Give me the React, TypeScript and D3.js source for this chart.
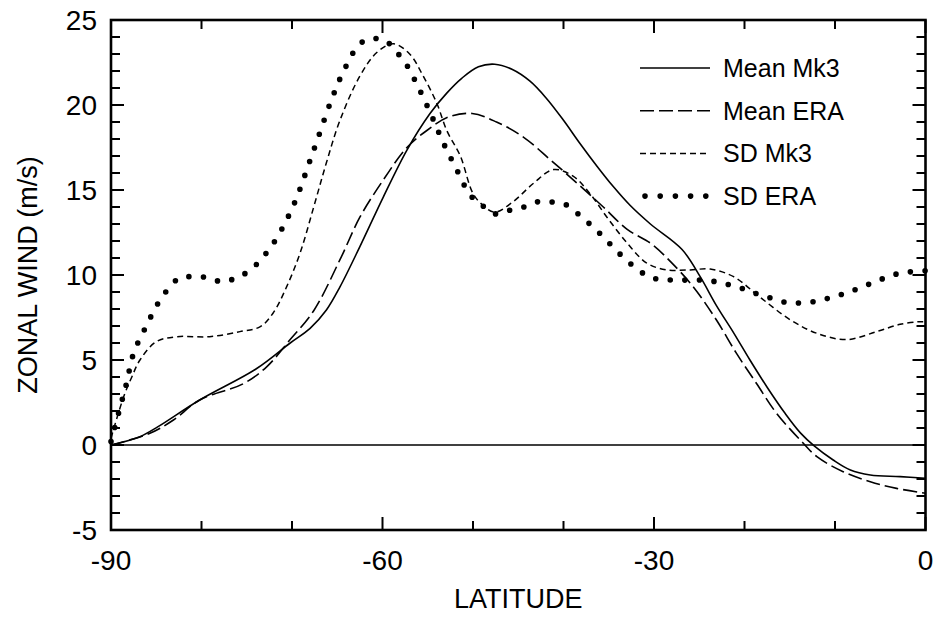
import React from "react";
import * as d3 from "d3";

const meanMk3Lat = [-90,-86.8,-84.8,-80.2,-73.9,-70.2,-68,-66.2,-64.7,-62.5,-59.9,-57.3,-54.75,-52.9,-51.25,-49.4,-47.6,-45.7,-43.7,-41.9,-40,-38.2,-36.3,-34.5,-32.65,-30.4,-26.9,-24.9,-23.1,-21.2,-19.4,-17.5,-15.5,-13.8,-12.3,-10.2,-8.3,-6.1,-2.8,0];
const meanMk3Val = [0,0.49,1.08,2.65,4.5,6.0,6.86,7.94,9.3,11.67,14.6,17.35,19.5,20.7,21.57,22.25,22.4,22.1,21.4,20.4,19.1,17.75,16.4,15.2,14.1,13.0,11.5,9.9,8.2,6.6,5.0,3.4,1.85,0.7,-0.05,-0.88,-1.47,-1.76,-1.86,-1.96];

const meanEraLat = [-90,-85.7,-83.1,-80.2,-75.4,-72.8,-70.2,-67.6,-64.7,-62.5,-59.9,-57.3,-55.1,-52.7,-50.1,-47.4,-44.4,-41.5,-38.5,-35.6,-33,-30.2,-28.2,-25.65,-23.1,-20.9,-18.65,-16.45,-13.5,-12,-9.1,-6.1,-3.2,0];
const meanEraVal = [0,0.69,1.47,2.65,3.6,4.6,6.2,7.9,10.9,13.4,15.6,17.5,18.5,19.3,19.5,19.0,18.1,16.8,15.4,14.0,12.7,11.8,10.8,9.3,7.35,5.4,3.6,1.86,0.1,-0.69,-1.57,-2.16,-2.55,-2.84];

const sdMk3Lat = [-90,-88.6,-87.7,-86.8,-85,-82.7,-79.1,-75.75,-73.5,-72.1,-70.6,-69.1,-67.6,-66.2,-64.7,-62.5,-60.6,-58.8,-57,-55.5,-54,-52.9,-51.4,-50,-48.9,-47.6,-45.6,-43.3,-41.1,-38.9,-37.1,-35.2,-33,-30.8,-28.6,-26,-23.8,-21.2,-18.3,-14.9,-12,-8.7,-5.4,-2.8,-0.8,0];
const sdMk3Val = [0.4,2.84,4.0,5.0,6.08,6.37,6.37,6.67,6.96,7.75,9.3,11.3,14.0,16.6,19.1,21.7,23.1,23.6,23.0,21.7,20.1,18.5,17.0,14.8,14.1,13.7,14.3,15.4,16.2,15.8,14.8,13.4,11.9,10.7,10.3,10.3,10.35,9.9,8.7,7.35,6.57,6.2,6.67,7.1,7.25,7.25];

const sdEraLat = [-90,-89.1,-88.3,-87.5,-86.1,-84.6,-82.5,-80.9,-79.3,-77.7,-76.1,-74.6,-72.4,-70,-67.7,-65.5,-64.2,-62.5,-61.1,-59.7,-58.6,-57.5,-56,-54.6,-53.3,-51.8,-50.3,-49,-47.6,-46,-44.4,-42.9,-41.3,-39.8,-38.4,-36,-33.7,-31.2,-29.6,-28,-26.4,-24.7,-23.1,-21.5,-19.9,-18.4,-16.8,-15.2,-13.6,-11.9,-10.3,-8.7,-7.2,-5.6,-4.1,-2.5,-0.9,0];
const sdEraVal = [0.2,2.0,3.6,5.4,7.0,8.5,9.8,9.9,9.85,9.6,9.85,10.3,11.6,13.9,17.2,20.5,22.1,23.6,23.9,23.8,23.2,22.5,21.0,19.4,17.8,16.2,14.7,14.1,13.6,13.8,14.0,14.3,14.3,14.15,13.6,12.45,11.2,10.1,9.75,9.7,9.7,9.7,9.6,9.4,9.15,8.85,8.6,8.37,8.37,8.47,8.7,8.95,9.25,9.6,9.9,10.15,10.2,10.25];

const seriesNames = ["Mean Mk3", "Mean ERA", "SD Mk3", "SD ERA"];
const xTickLabels = [-90, -60, -30, 0];
const yTickLabels = [-5, 0, 5, 10, 15, 20, 25];

const FONT = "'Liberation Sans', Arial, Helvetica, sans-serif";

export default function App() {
  const W = 940, H = 617;
  const x = d3.scaleLinear().domain([-90, 0]).range([111, 925.5]);
  const y = d3.scaleLinear().domain([-5, 25]).range([530, 20]);

  const line = d3
    .line<[number, number]>()
    .x((d) => x(d[0]))
    .y((d) => y(d[1]))
    .curve(d3.curveCatmullRom.alpha(0.5));

  const zip = (a: number[], b: number[]) => a.map((v, i) => [v, b[i]] as [number, number]);

  const styles = [
    { dash: undefined as string | undefined, width: 1.6, cap: "butt" },
    { dash: "14 5", width: 1.6, cap: "butt" },
    { dash: "6 4", width: 1.5, cap: "butt" },
    { dash: "0 14.6", width: 5.6, cap: "round" },
  ];
  const data = [
    zip(meanMk3Lat, meanMk3Val),
    zip(meanEraLat, meanEraVal),
    zip(sdMk3Lat, sdMk3Val),
    zip(sdEraLat, sdEraVal),
  ];

  const xMinor = d3.range(-90, 1, 10);
  const yMinor = d3.range(-5, 26, 1);
  const [xl, xr] = x.range();
  const [yb, yt] = y.range();

  return (
    <svg width={W} height={H} style={{ position: "absolute", left: 0, top: 0, background: "#fff" }} fontFamily={FONT}>
      <rect x={0} y={0} width={W} height={H} fill="#fff" />
      <line x1={xl} x2={xr} y1={y(0)} y2={y(0)} stroke="#000" strokeWidth={1.6} />
      {data.map((d, i) => (
        <path
          key={i}
          d={line(d) || ""}
          fill="none"
          stroke="#000"
          strokeWidth={styles[i].width}
          strokeDasharray={styles[i].dash}
          strokeLinecap={styles[i].cap as any}
          strokeLinejoin="round"
        />
      ))}
      {xMinor.map((t) => {
        const major = t % 30 === 0;
        const len = major ? 13 : 9;
        return (
          <g key={"xt" + t}>
            <line x1={x(t)} x2={x(t)} y1={yb} y2={yb - len} stroke="#000" strokeWidth={2} />
            <line x1={x(t)} x2={x(t)} y1={yt} y2={yt + len} stroke="#000" strokeWidth={2} />
          </g>
        );
      })}
      {yMinor.map((t) => {
        const major = t % 5 === 0;
        const len = major ? 13 : 9;
        return (
          <g key={"yt" + t}>
            <line x1={xl} x2={xl + len} y1={y(t)} y2={y(t)} stroke="#000" strokeWidth={2} />
            <line x1={xr} x2={xr - len} y1={y(t)} y2={y(t)} stroke="#000" strokeWidth={2} />
          </g>
        );
      })}
      <rect x={xl} y={yt} width={xr - xl} height={yb - yt} fill="none" stroke="#000" strokeWidth={2.6} />
      {xTickLabels.map((t) => (
        <text key={"xl" + t} x={x(t)} y={570} textAnchor="middle" fontSize={28} fill="#000">
          {t}
        </text>
      ))}
      {yTickLabels.map((t) => (
        <text key={"yl" + t} x={97} y={y(t)} dy="0.36em" textAnchor="end" fontSize={28} fill="#000">
          {t}
        </text>
      ))}
      <text x={(xl + xr) / 2} y={608} textAnchor="middle" fontSize={27} fill="#000">
        LATITUDE
      </text>
      <text
        transform={`translate(37,${(yt + yb) / 2}) rotate(-90)`}
        textAnchor="middle"
        fontSize={27}
        fill="#000"
      >
        ZONAL WIND (m/s)
      </text>
      {seriesNames.map((name, i) => {
        const ly = 68 + i * 42.7;
        const dotted = i === 3;
        return (
          <g key={"lg" + i}>
            <line
              x1={dotted ? 645 : 640}
              x2={710}
              y1={ly}
              y2={ly}
              stroke="#000"
              strokeWidth={styles[i].width}
              strokeDasharray={dotted ? "0 15.2" : styles[i].dash}
              strokeLinecap={styles[i].cap as any}
            />
            <text x={723} y={ly} dy="0.36em" fontSize={25} fill="#000">
              {name}
            </text>
          </g>
        );
      })}
    </svg>
  );
}
